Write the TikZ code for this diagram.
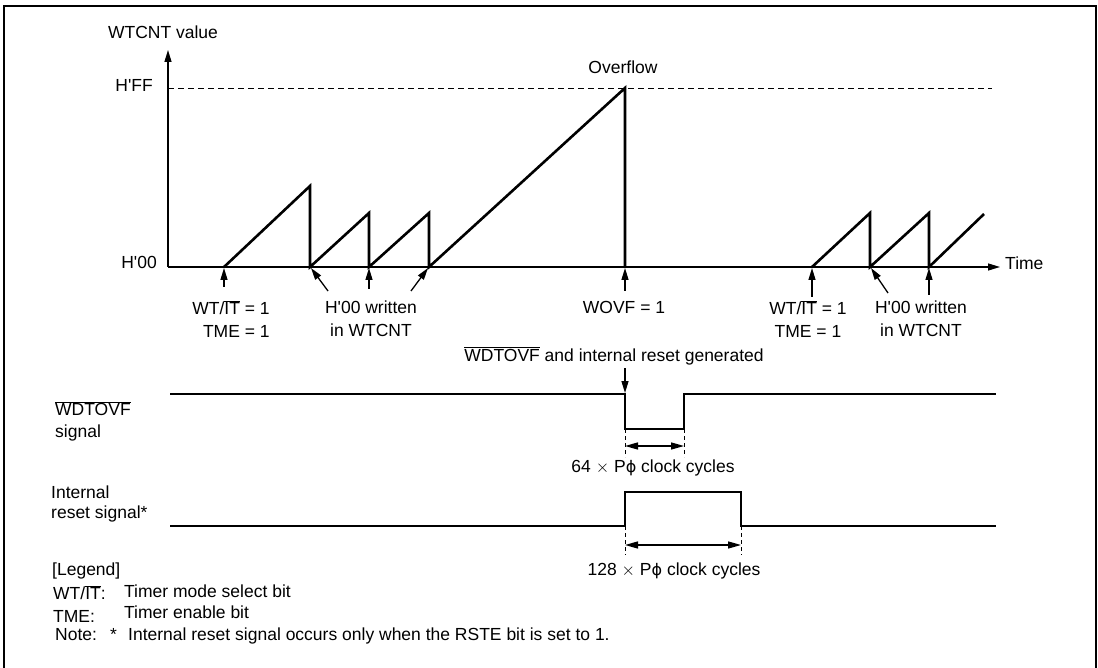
\documentclass[tikz,border=0pt]{standalone}
\usepackage{fontspec}
\setmainfont{Liberation Sans}[Ligatures=TeXOff]
\newfontfamily\dvfont{DejaVu Sans}
\usetikzlibrary{arrows.meta}
\newcommand\ovl[1]{\(\overline{\mbox{#1}}\)}
\newcommand\pphi{P{\dvfont\fontsize{16}{20}\selectfont ϕ}}
\begin{document}
\begin{tikzpicture}[x=1pt,y=-1pt,
  every node/.style={inner sep=0pt,font=\fontsize{17.5}{23}\selectfont},
  frameline/.style={line width=2.2pt},
  axisline/.style={line width=1.3pt,-{Triangle[length=12pt,width=7pt]}},
  wave/.style={line width=2.6pt},
  arr/.style={line width=1.3pt,-{Triangle[length=12pt,width=7pt]}},
  dimarr/.style={line width=1.3pt,{Triangle[length=13pt,width=7pt]}-{Triangle[length=13pt,width=7pt]}},
  ffline/.style={line width=0.9pt,dash pattern=on 6pt off 4pt},
  guide/.style={line width=0.9pt,dash pattern=on 4pt off 3pt}]
\useasboundingbox (0,0) rectangle (1098,668);
% frame
\draw[frameline] (4,680) -- (4,6) -- (1096,6) -- (1096,680);
% axes
\coordinate (o) at (168,267);
\coordinate (ytop) at (168,50);
\coordinate (xend) at (1000,267);
\draw[axisline] (o) -- (ytop);
\draw[axisline] (o) -- (xend);
\node (ylab) at (163,32) {WTCNT value};
\node (time) [anchor=mid west] at (1005,267) {Time};
\node (hff) [anchor=mid east] at (153,89) {H'FF};
\node (h00) [anchor=mid east] at (157,266) {H'00};
\coordinate (ffa) at (168,88);
\coordinate (ffb) at (992,88);
\draw[ffline] (ffa) -- (ffb);
\node (ovf) at (623,67) {Overflow};
% sawtooth
\draw[wave] (224,267) -- (310,186) -- (310,267) -- (369,213) -- (369,267)
  -- (429,213) -- (429,267) -- (625,88) -- (625,267);
\draw[wave] (812,267) -- (870,213) -- (870,267) -- (929,213) -- (929,267) -- (984,214);
% event arrows
\coordinate (e1) at (224,268); \coordinate (t1) at (224,287);
\coordinate (e2) at (311,268); \coordinate (t2) at (328,291);
\coordinate (e3) at (369,268); \coordinate (t3) at (369,289);
\coordinate (e4) at (428,268); \coordinate (t4) at (411,291);
\coordinate (e5) at (625,268); \coordinate (t5) at (625,291);
\coordinate (e6) at (812,268); \coordinate (t6) at (812,297);
\coordinate (e7) at (871,268); \coordinate (t7) at (888,293);
\coordinate (e8) at (929,268); \coordinate (t8) at (929,295);
\foreach \i in {1,...,8} {\draw[arr] (t\i) -- (e\i);}
\node (wt1) [align=right] at (231,319) {WT/\ovl{IT} = 1\\TME = 1};
\node (h0a) [align=center] at (371,319) {H'00 written\\in WTCNT};
\node (wovf) at (624,307) {WOVF = 1};
\node (wt2) [align=center] at (808,319) {WT/\ovl{IT} = 1\\TME = 1};
\node (h0b) [align=center] at (921,319) {H'00 written\\in WTCNT};
% WDTOVF signal
\node (gen) at (614,356) {\ovl{WDTOVF} and internal reset generated};
\coordinate (gt) at (625,368); \coordinate (gh) at (625,393);
\draw[arr] (gt) -- (gh);
\draw[wave] (170,394) -- (625,394) -- (625,429) -- (684,429) -- (684,394) -- (996,394);
\coordinate (d1a) at (625,429); \coordinate (d1b) at (625,457);
\coordinate (d2a) at (684,429); \coordinate (d2b) at (684,457);
\draw[guide] (d1a) -- (d1b);
\draw[guide] (d2a) -- (d2b);
\coordinate (m1a) at (625,446); \coordinate (m1b) at (684,446);
\draw[dimarr] (m1a) -- (m1b);
\node (c64) at (653,468) {64 $\times$ \pphi\ clock cycles};
\node (wsig1) [anchor=mid west] at (55,413) {\ovl{WDTOVF}};
\node (wsig2) [anchor=mid west] at (55,435) {signal};
% internal reset signal
\draw[wave] (170,526) -- (625,526) -- (625,492) -- (741,492) -- (741,526) -- (996,526);
\coordinate (d3a) at (625,526); \coordinate (d3b) at (625,555);
\coordinate (d4a) at (741,526); \coordinate (d4b) at (741,555);
\draw[guide] (d3a) -- (d3b);
\draw[guide] (d4a) -- (d4b);
\coordinate (m2a) at (625,545); \coordinate (m2b) at (741,545);
\draw[dimarr] (m2a) -- (m2b);
\node (c128) at (674,571) {128 $\times$ \pphi\ clock cycles};
\node (rs1) [anchor=mid west] at (51,496) {Internal};
\node (rs2) [anchor=mid west] at (51,516) {reset signal*};
% legend
\node (lg) [anchor=mid west] at (52,573) {[Legend]};
\node (lg1) [anchor=mid west] at (53,597) {WT/\ovl{IT}:};
\node (lg1t) [anchor=mid west] at (124,595) {Timer mode select bit};
\node (lg2) [anchor=mid west] at (53,620) {TME:};
\node (lg2t) [anchor=mid west] at (124,616) {Timer enable bit};
\node (nt) [anchor=mid west] at (55,638) {Note:};
\node (nts) [anchor=mid west] at (110,638) {*};
\node (ntt) [anchor=mid west] at (128,638) {Internal reset signal occurs only when the RSTE bit is set to 1.};
\end{tikzpicture}
\end{document}
